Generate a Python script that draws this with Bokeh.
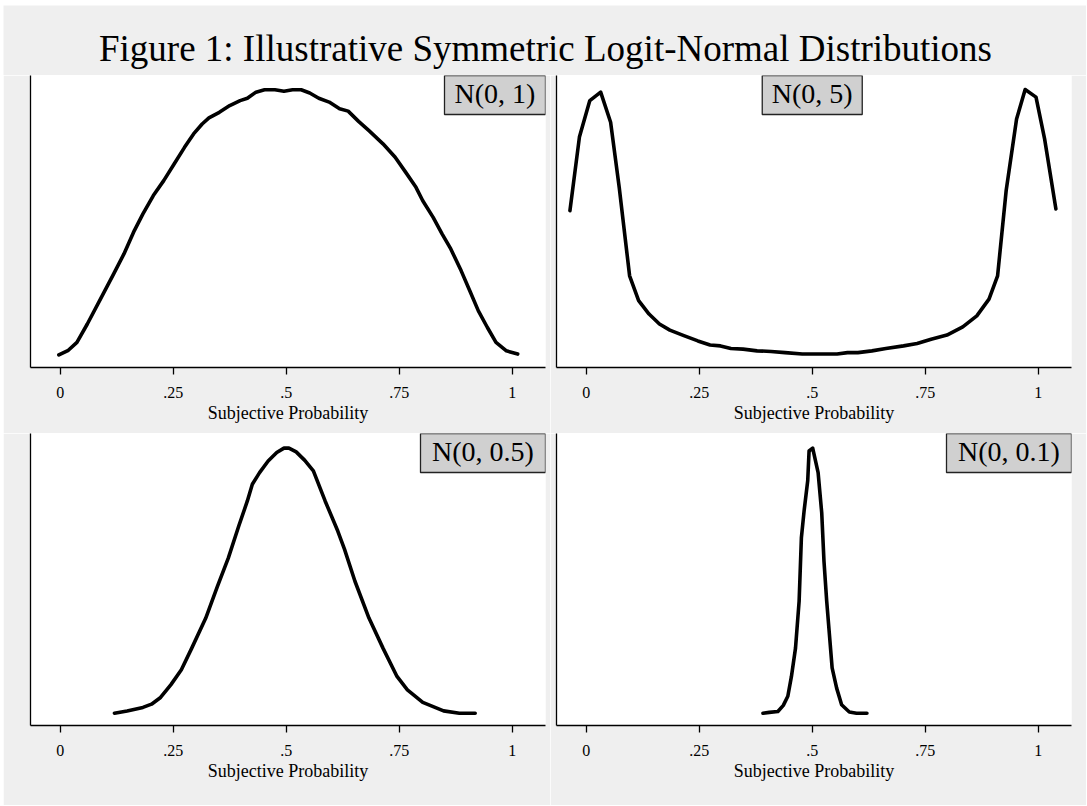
from bokeh.plotting import figure
from bokeh.layouts import column, row
from bokeh.models import Range1d, FixedTicker, Label, Spacer
from bokeh.embed import file_html
from bokeh.resources import INLINE
from bokeh.core.properties import value

# ---------------- data ----------------
TITLE = "Figure 1: Illustrative Symmetric Logit-Normal Distributions"
X_LABEL = "Subjective Probability"
TICK_VALUES = [0, 0.25, 0.5, 0.75, 1]
TICK_LABELS = ["0", ".25", ".5", ".75", "1"]
PANEL_LABELS = ["N(0, 1)", "N(0, 5)", "N(0, 0.5)", "N(0, 0.1)"]

# relative density (0 = axis, 1 = top of plot region)
n1_x = [-0.003, 0.018, 0.037, 0.06, 0.091, 0.118, 0.141, 0.164, 0.183, 0.206, 0.229, 0.252,
        0.275, 0.295, 0.314, 0.329, 0.352, 0.375, 0.398, 0.414, 0.433, 0.452, 0.475, 0.495,
        0.514, 0.533, 0.552, 0.572, 0.595, 0.618, 0.637, 0.66, 0.683, 0.714, 0.741, 0.764,
        0.787, 0.802, 0.825, 0.845, 0.864, 0.887, 0.906, 0.925, 0.945, 0.964, 0.987, 1.012]
n1_y = [0.043, 0.059, 0.086, 0.149, 0.24, 0.32, 0.389, 0.469, 0.526, 0.589, 0.64, 0.697,
        0.754, 0.80, 0.834, 0.855, 0.874, 0.897, 0.914, 0.922, 0.943, 0.951, 0.951, 0.946,
        0.951, 0.951, 0.94, 0.922, 0.909, 0.886, 0.878, 0.843, 0.811, 0.766, 0.72, 0.669,
        0.617, 0.571, 0.514, 0.457, 0.406, 0.331, 0.263, 0.194, 0.137, 0.086, 0.057, 0.046]

n5_x = [-0.036, -0.015, 0.008, 0.032, 0.054, 0.073, 0.096, 0.116, 0.139, 0.162, 0.185, 0.216,
        0.247, 0.274, 0.297, 0.32, 0.347, 0.378, 0.409, 0.44, 0.478, 0.517, 0.555, 0.578,
        0.601, 0.632, 0.663, 0.702, 0.732, 0.763, 0.798, 0.833, 0.864, 0.891, 0.91, 0.929,
        0.952, 0.971, 0.995, 1.014, 1.039]
n5_y = [0.537, 0.789, 0.914, 0.943, 0.84, 0.617, 0.314, 0.229, 0.183, 0.149, 0.128, 0.109,
        0.091, 0.077, 0.074, 0.065, 0.063, 0.057, 0.055, 0.051, 0.046, 0.046, 0.046, 0.051,
        0.051, 0.057, 0.065, 0.074, 0.082, 0.097, 0.111, 0.139, 0.177, 0.234, 0.314, 0.606,
        0.851, 0.952, 0.926, 0.783, 0.543]

n05_x = [0.12, 0.148, 0.183, 0.202, 0.222, 0.245, 0.268, 0.291, 0.322, 0.348, 0.372, 0.395,
         0.414, 0.425, 0.441, 0.46, 0.479, 0.495, 0.506, 0.522, 0.541, 0.56, 0.586, 0.614,
         0.629, 0.652, 0.683, 0.714, 0.745, 0.768, 0.802, 0.848, 0.883, 0.918]
n05_y = [0.042, 0.05, 0.062, 0.073, 0.096, 0.14, 0.191, 0.265, 0.368, 0.477, 0.574, 0.683,
         0.769, 0.826, 0.866, 0.906, 0.935, 0.95, 0.95, 0.937, 0.908, 0.872, 0.769, 0.666,
         0.603, 0.494, 0.368, 0.265, 0.168, 0.122, 0.079, 0.05, 0.042, 0.042]

n01_x = [0.391, 0.405, 0.424, 0.436, 0.446, 0.454, 0.463, 0.471, 0.476, 0.482, 0.49, 0.493,
         0.501, 0.513, 0.521, 0.526, 0.532, 0.544, 0.554, 0.565, 0.582, 0.598, 0.621]
n01_y = [0.042, 0.045, 0.048, 0.069, 0.1, 0.168, 0.265, 0.426, 0.643, 0.735, 0.838, 0.94,
         0.95, 0.866, 0.728, 0.562, 0.426, 0.197, 0.128, 0.071, 0.046, 0.042, 0.042]

# ---------------- styling ----------------
BG = "#efefef"
BOX_FILL = "#d0d0d0"
FONT = "Liberation Serif"
X_START, X_END = -0.0657, 1.0735
FRAME_W, FRAME_H = 515, 292
UNIT = FRAME_W / (X_END - X_START)


def make_panel(xs, ys, label, box_w, centered, left_b, right_b, bottom_b):
    p = figure(width=left_b + FRAME_W + right_b, height=FRAME_H + bottom_b,
               x_range=Range1d(X_START, X_END), y_range=Range1d(0, 1),
               toolbar_location=None, output_backend="svg",
               min_border_left=left_b, min_border_right=right_b,
               min_border_top=0, min_border_bottom=bottom_b)
    p.background_fill_color = "white"
    p.border_fill_color = BG
    p.outline_line_color = None
    p.grid.visible = False

    xa = p.xaxis[0]
    xa.ticker = FixedTicker(ticks=TICK_VALUES)
    xa.major_label_overrides = {v: t for v, t in zip(TICK_VALUES, TICK_LABELS)}
    xa.axis_label = X_LABEL
    xa.axis_label_text_font = FONT
    xa.axis_label_text_font_size = "18px"
    xa.axis_label_text_font_style = "normal"
    xa.axis_label_text_color = "black"
    xa.axis_label_standoff = 2
    xa.major_label_text_font = FONT
    xa.major_label_text_font_size = "16px"
    xa.major_label_text_color = "black"
    xa.major_label_standoff = 12
    xa.major_tick_out = 7
    xa.major_tick_in = 0
    xa.minor_tick_out = 0
    xa.minor_tick_in = 0
    xa.axis_line_width = 1.3
    xa.major_tick_line_width = 1.3
    xa.axis_line_color = "black"
    xa.major_tick_line_color = "black"

    ya = p.yaxis[0]
    ya.ticker = FixedTicker(ticks=[])
    ya.major_tick_out = 0
    ya.major_tick_in = 0
    ya.minor_tick_out = 0
    ya.minor_tick_in = 0
    ya.major_label_standoff = 0
    ya.major_label_text_font_size = "0px"
    ya.axis_line_width = 1.3
    ya.axis_line_color = "black"

    p.line(xs, ys, line_width=3.6, color="black", line_join="round", line_cap="round")

    box_h = 39
    if centered:
        bx = 0.5
    else:
        bx = X_END - (box_w / 2) / UNIT
    by = 1 - (box_h / 2) / FRAME_H
    p.rect(x=[bx], y=[by], width=box_w, height=box_h,
           width_units="screen", height_units="screen",
           fill_color=BOX_FILL, line_color="#222222", line_width=1.3)
    p.text(x=[bx], y=[1 - 17.5 / FRAME_H], text=[label], text_font=value(FONT),
           text_font_size="28px", text_align="center", text_baseline="alphabetic",
           text_color="black")
    return p


p1 = make_panel(n1_x, n1_y, PANEL_LABELS[0], 101, False, 27, 5, 66)
p2 = make_panel(n5_x, n5_y, PANEL_LABELS[1], 100, True, 6, 15, 66)
p3 = make_panel(n05_x, n05_y, PANEL_LABELS[2], 125, False, 27, 5, 80)
p4 = make_panel(n01_x, n01_y, PANEL_LABELS[3], 125, False, 6, 15, 80)

TW, TH = 1083, 70
t = figure(width=TW, height=TH, x_range=Range1d(0, 1), y_range=Range1d(0, 1),
           toolbar_location=None, output_backend="svg", min_border=0,
           x_axis_type=None, y_axis_type=None)
t.background_fill_color = BG
t.border_fill_color = BG
t.outline_line_color = None
t.grid.visible = False
t.add_layout(Label(x=542 / TW, y=1 - 42.5 / TH, text=TITLE, text_font=FONT,
                   text_font_size="37px", text_align="center",
                   text_baseline="alphabetic", text_color="black"))

body = column(t, row(p1, p2, spacing=0), row(p3, p4, spacing=0), spacing=0)
layout = column(Spacer(height=5, width=1086),
                row(Spacer(width=3, height=800), body, spacing=0), spacing=0)

with open("out.html", "w") as f:
    f.write(file_html(layout, INLINE))
